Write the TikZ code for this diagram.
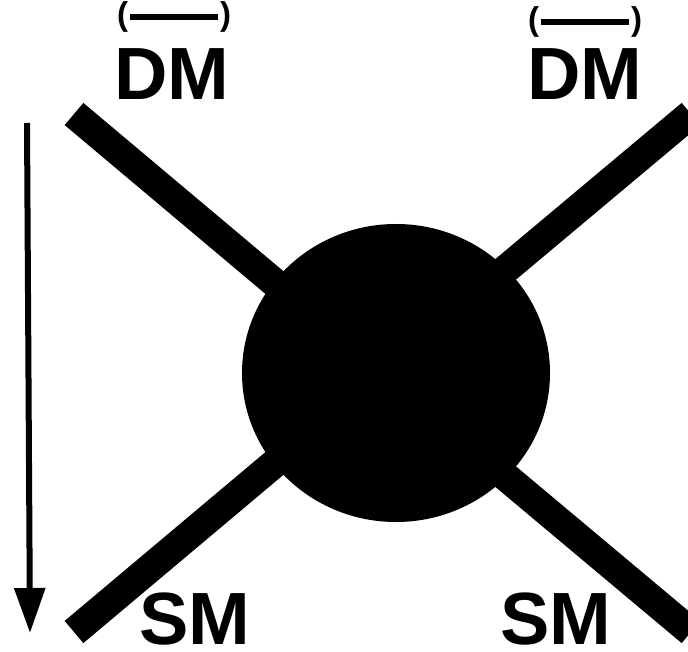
\documentclass[tikz,border=0pt]{standalone}
\usepackage{fontspec}
\setmainfont{Liberation Sans}
\usetikzlibrary{shapes.geometric,arrows.meta}

\begin{document}
\begin{tikzpicture}[x=1pt, y=-1pt,
    leg/.style={line width=29pt},
    lbl/.style={inner sep=0pt, anchor=base, font=\fontsize{74}{74}\selectfont\bfseries},
    par/.style={inner sep=0pt, anchor=base, font=\fontsize{33}{33}\selectfont\bfseries}]
  \useasboundingbox (0, 0) rectangle (688, 652);

  % Leg ends
  \coordinate (tl) at (74, 114);
  \coordinate (tr) at (691, 114);
  \coordinate (bl) at (74, 632);
  \coordinate (br) at (691, 632);
  \coordinate (x) at (382, 373);

  % Legs
  \draw[leg] (tl) -- (x);
  \draw[leg] (tr) -- (x);
  \draw[leg] (bl) -- (x);
  \draw[leg] (br) -- (x);

  % Blob
  \node[ellipse, fill=black, inner sep=0pt, minimum width=308pt, minimum height=298pt] (core) at (396, 373) {};

  % Labels
  \node[lbl] (dmL) at (172, 100) {DM};
  \node[lbl] (dmR) at (585, 100) {DM};
  \node[lbl] (smL) at (195, 644) {SM};
  \node[lbl] (smR) at (556, 644) {SM};
  \node[par] (barL) at (174, 26) {(\hspace{2pt}\rule[5.5pt]{88pt}{6pt}\hspace{2pt})};
  \node[par] (barR) at (585, 31) {(\hspace{2pt}\rule[5.5pt]{88pt}{6pt}\hspace{2pt})};

  % Time arrow
  \coordinate (t0) at (27, 123);
  \coordinate (t1) at (30, 633);
  \draw[line width=6pt, -{Triangle[length=45pt, width=30pt]}] (t0) -- (t1);
\end{tikzpicture}
\end{document}
